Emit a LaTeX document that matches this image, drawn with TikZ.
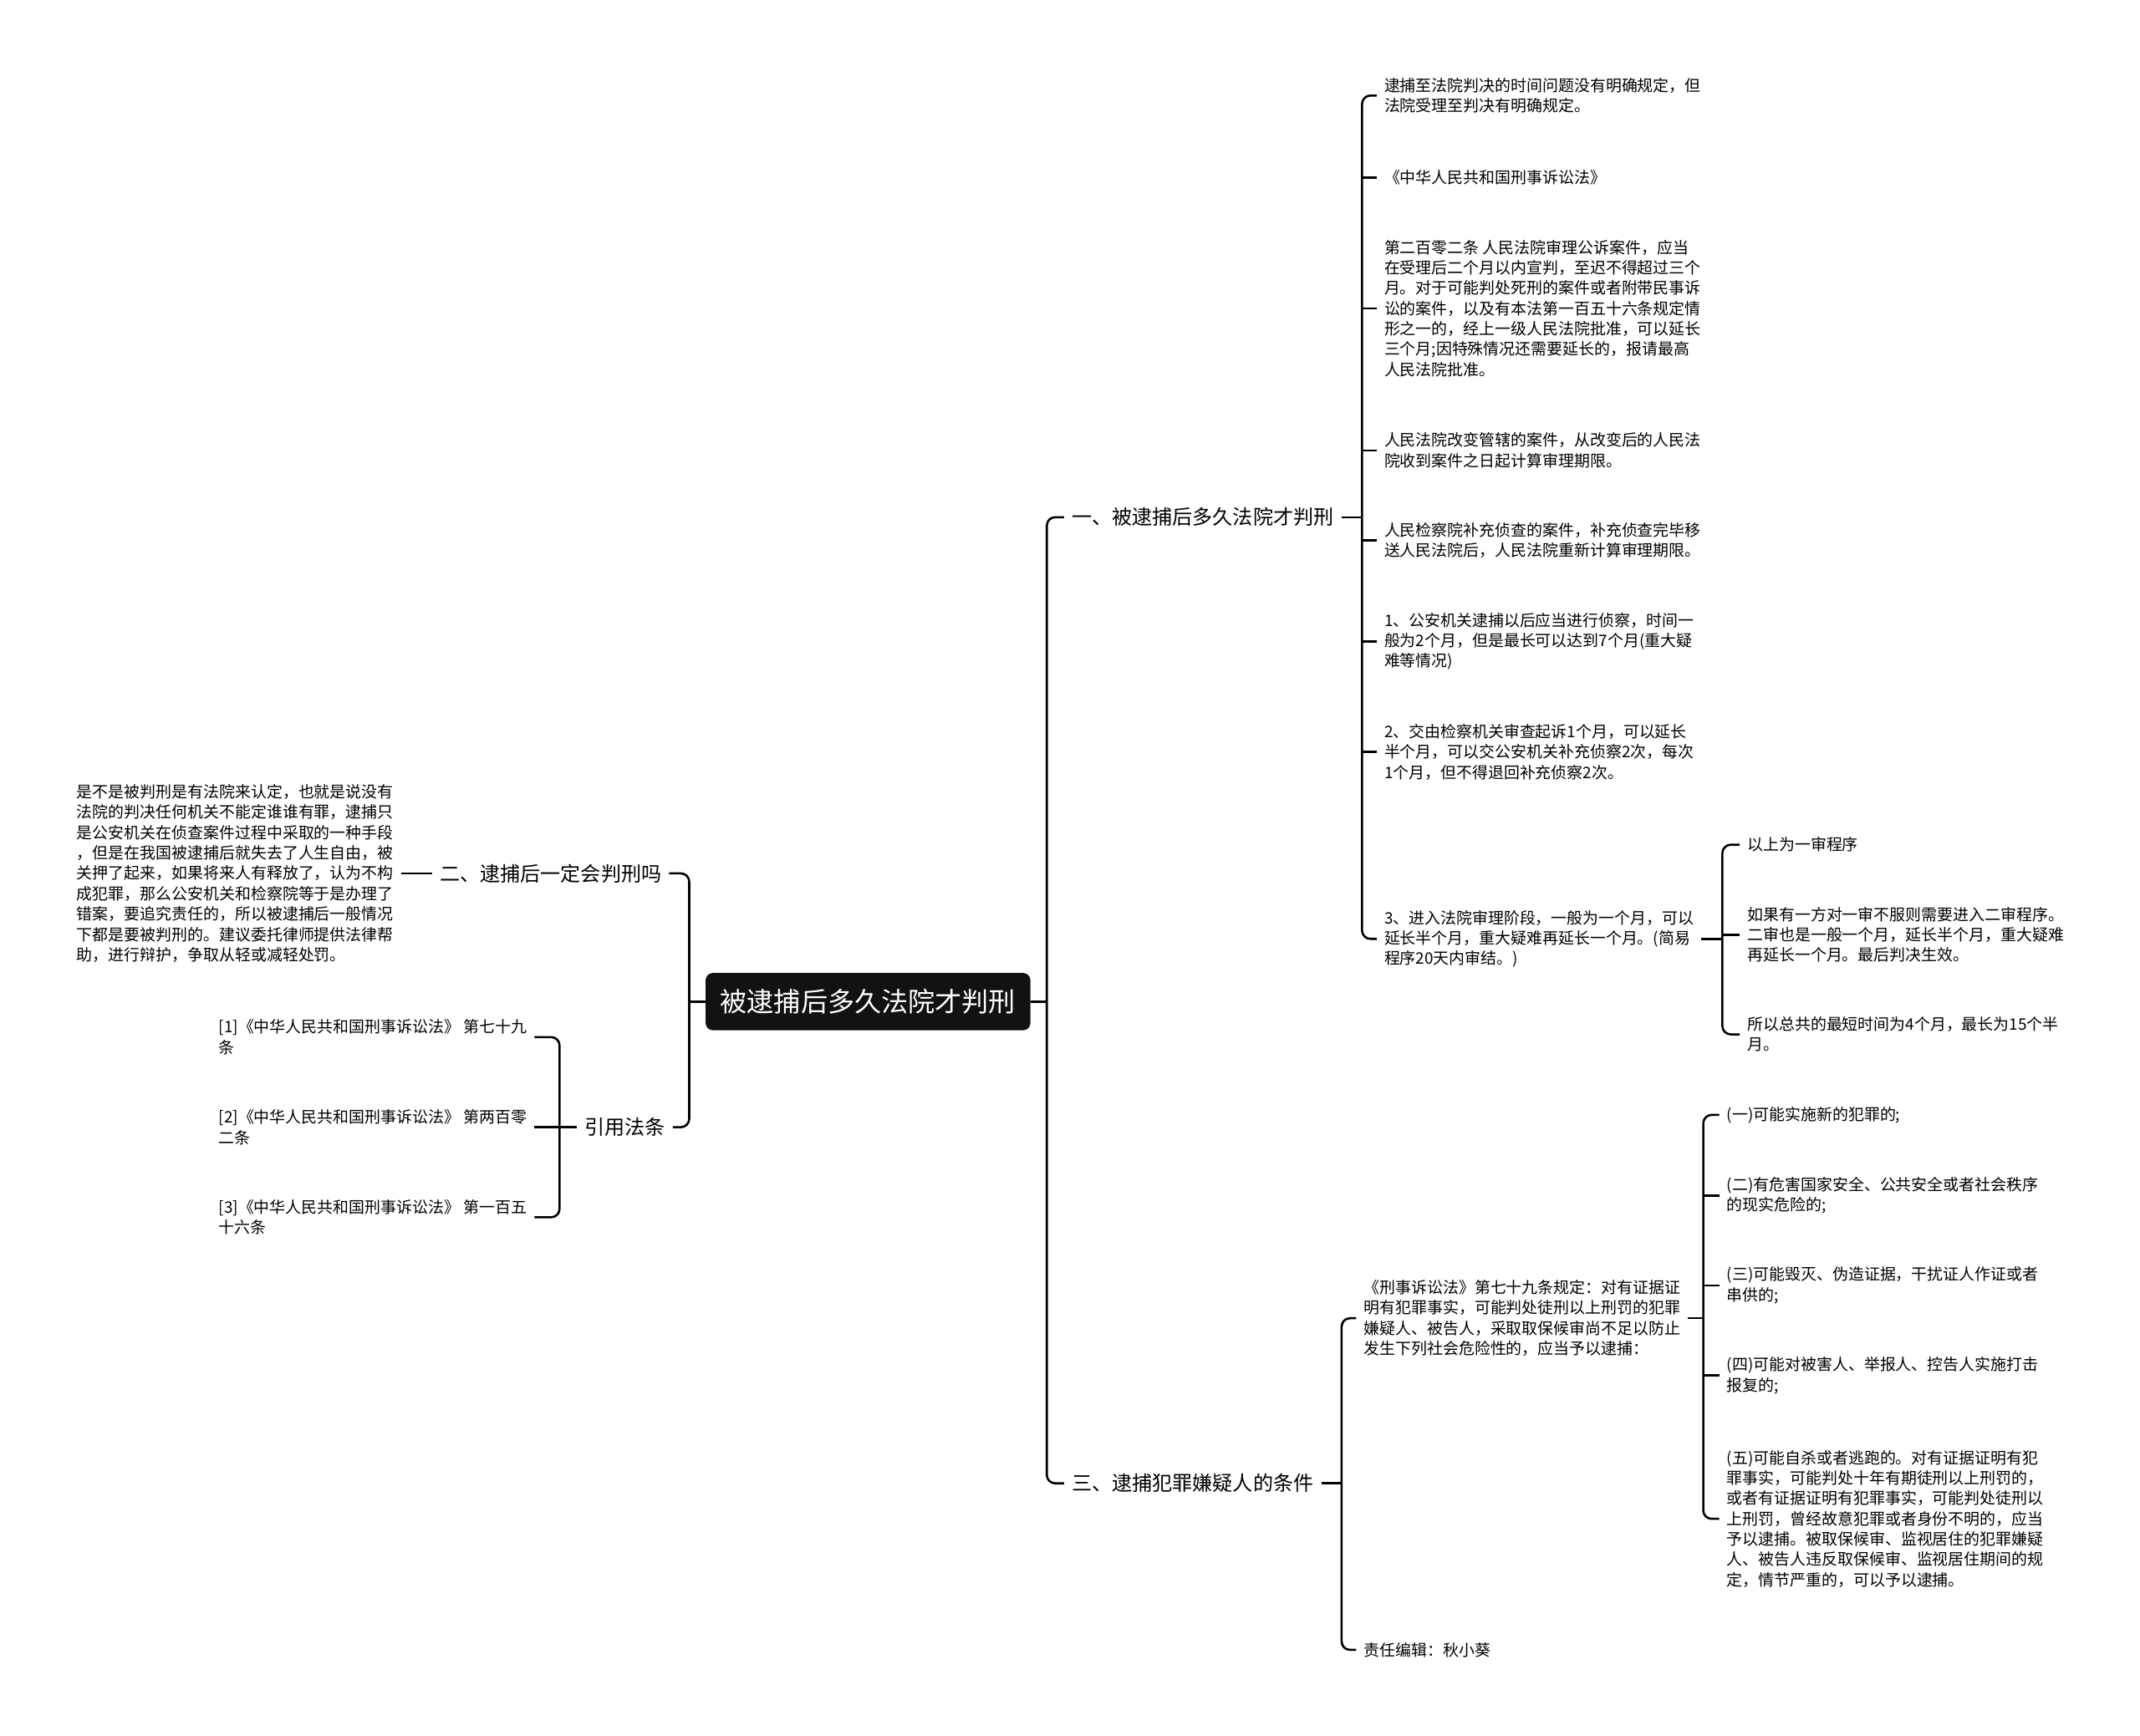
\documentclass[tikz,border=0pt]{standalone}
\usepackage{fontspec}
\setmainfont{Noto Sans CJK SC}
\usepackage{tikz}
\usetikzlibrary{calc,positioning}
\tikzset{topic/.style={fill=black!93,text=white,rounded corners=3pt,minimum width=4.76cm,minimum height=0.84cm,inner sep=0pt,font=\fontsize{11.2}{13}\selectfont}}
\tikzset{branch/.style={anchor=west,inner xsep=3pt,inner ysep=1pt,font=\fontsize{8.4}{10}\selectfont}}
\tikzset{leaf/.style={anchor=west,align=left,inner xsep=3pt,inner ysep=1pt,font=\fontsize{6.6}{8.5}\selectfont}}
\tikzset{link/.style={line width=0.9pt,rounded corners=3.5pt}}

\begin{document}
\begin{tikzpicture}[x=0.02cm, y=-0.02cm]
\fill[white] (0,0) rectangle (1568,1272);
\useasboundingbox (0,0) rectangle (1568,1272);

\node[topic] (root) at (636,734) {被逮捕后多久法院才判刑};
\node[branch] (b1) at (779.7,379) {一、被逮捕后多久法院才判刑};
\node[branch] (b3) at (779.7,1087) {三、逮捕犯罪嫌疑人的条件};
\node[branch] (b2) at (316.7,640) {二、逮捕后一定会判刑吗};
\node[branch] (b4) at (422.7,826) {引用法条};

\node[leaf] (n2) at (50.7,640) {是不是被判刑是有法院来认定，也就是说没有\\法院的判决任何机关不能定谁谁有罪，逮捕只\\是公安机关在侦查案件过程中采取的一种手段\\，但是在我国被逮捕后就失去了人生自由，被\\关押了起来，如果将来人有释放了，认为不构\\成犯罪，那么公安机关和检察院等于是办理了\\错案，要追究责任的，所以被逮捕后一般情况\\下都是要被判刑的。建议委托律师提供法律帮\\助，进行辩护，争取从轻或减轻处罚。};

\node[leaf] (r1) at (154.7,760) {[1]《中华人民共和国刑事诉讼法》 第七十九\\条};
\node[leaf] (r2) at (154.7,826) {[2]《中华人民共和国刑事诉讼法》 第两百零\\二条};
\node[leaf] (r3) at (154.7,892) {[3]《中华人民共和国刑事诉讼法》 第一百五\\十六条};

\node[leaf] (c1) at (1008.7,70) {逮捕至法院判决的时间问题没有明确规定，但\\法院受理至判决有明确规定。};
\node[leaf] (c2) at (1008.7,130) {《中华人民共和国刑事诉讼法》};
\node[leaf] (c3) at (1008.7,226) {第二百零二条 人民法院审理公诉案件，应当\\在受理后二个月以内宣判，至迟不得超过三个\\月。对于可能判处死刑的案件或者附带民事诉\\讼的案件，以及有本法第一百五十六条规定情\\形之一的，经上一级人民法院批准，可以延长\\三个月;因特殊情况还需要延长的，报请最高\\人民法院批准。};
\node[leaf] (c4) at (1008.7,330) {人民法院改变管辖的案件，从改变后的人民法\\院收到案件之日起计算审理期限。};
\node[leaf] (c5) at (1008.7,396) {人民检察院补充侦查的案件，补充侦查完毕移\\送人民法院后，人民法院重新计算审理期限。};
\node[leaf] (c6) at (1008.7,470) {1、公安机关逮捕以后应当进行侦察，时间一\\般为2个月，但是最长可以达到7个月(重大疑\\难等情况)};
\node[leaf] (c7) at (1008.7,551) {2、交由检察机关审查起诉1个月，可以延长\\半个月，可以交公安机关补充侦察2次，每次\\1个月，但不得退回补充侦察2次。};
\node[leaf] (c8) at (1008.7,688) {3、进入法院审理阶段，一般为一个月，可以\\延长半个月，重大疑难再延长一个月。(简易\\程序20天内审结。)};

\node[leaf] (g1) at (1274.7,619) {以上为一审程序};
\node[leaf] (g2) at (1274.7,685) {如果有一方对一审不服则需要进入二审程序。\\二审也是一般一个月，延长半个月，重大疑难\\再延长一个月。最后判决生效。};
\node[leaf] (g3) at (1274.7,758) {所以总共的最短时间为4个月，最长为15个半\\月。};

\node[leaf] (d1) at (993.7,966) {《刑事诉讼法》第七十九条规定：对有证据证\\明有犯罪事实，可能判处徒刑以上刑罚的犯罪\\嫌疑人、被告人，采取取保候审尚不足以防止\\发生下列社会危险性的，应当予以逮捕：};
\node[leaf] (d2) at (993.7,1209) {责任编辑：秋小葵};

\node[leaf] (e1) at (1259.7,817) {(一)可能实施新的犯罪的;};
\node[leaf] (e2) at (1259.7,876) {(二)有危害国家安全、公共安全或者社会秩序\\的现实危险的;};
\node[leaf] (e3) at (1259.7,942) {(三)可能毁灭、伪造证据，干扰证人作证或者\\串供的;};
\node[leaf] (e4) at (1259.7,1008) {(四)可能对被害人、举报人、控告人实施打击\\报复的;};
\node[leaf] (e5) at (1259.7,1113) {(五)可能自杀或者逃跑的。对有证据证明有犯\\罪事实，可能判处十年有期徒刑以上刑罚的，\\或者有证据证明有犯罪事实，可能判处徒刑以\\上刑罚，曾经故意犯罪或者身份不明的，应当\\予以逮捕。被取保候审、监视居住的犯罪嫌疑\\人、被告人违反取保候审、监视居住期间的规\\定，情节严重的，可以予以逮捕。};

\coordinate (sR) at (767,0);
\coordinate (sL) at (505,0);
\coordinate (s4) at (410,0);
\coordinate (s1) at (998,0);
\coordinate (s8) at (1262,0);
\coordinate (s3) at (983,0);
\coordinate (sd) at (1248,0);

\draw[link] (root.east) -- (sR |- root.east);
\draw[link] (b1.west) -- (sR |- b1.west) -- (sR |- b3.west) -- (b3.west);
\draw[link] (root.west) -- (sL |- root.west);
\draw[link] (b2.east) -- (sL |- b2.east) -- (sL |- b4.east) -- (b4.east);
\draw[link] (n2.east) -- (b2.west);

\draw[link] (b4.west) -- (s4 |- b4.west);
\draw[link] (r1.east) -- (s4 |- r1.east) -- (s4 |- r3.east) -- (r3.east);
\draw[link] (s4 |- r2.east) -- (r2.east);

\draw[link] (b1.east) -- (s1 |- b1.east);
\draw[link] (c1.west) -- (s1 |- c1.west) -- (s1 |- c8.west) -- (c8.west);
\foreach \n in {c2,c3,c4,c5,c6,c7}
  \draw[link] (s1 |- \n.west) -- (\n.west);

\draw[link] (c8.east) -- (s8 |- c8.east);
\draw[link] (g1.west) -- (s8 |- g1.west) -- (s8 |- g3.west) -- (g3.west);
\draw[link] (s8 |- g2.west) -- (g2.west);

\draw[link] (b3.east) -- (s3 |- b3.east);
\draw[link] (d1.west) -- (s3 |- d1.west) -- (s3 |- d2.west) -- (d2.west);
\draw[link] (d1.east) -- (sd |- d1.east);
\draw[link] (e1.west) -- (sd |- e1.west) -- (sd |- e5.west) -- (e5.west);
\foreach \n in {e2,e3,e4}
  \draw[link] (sd |- \n.west) -- (\n.west);
\end{tikzpicture}
\end{document}
